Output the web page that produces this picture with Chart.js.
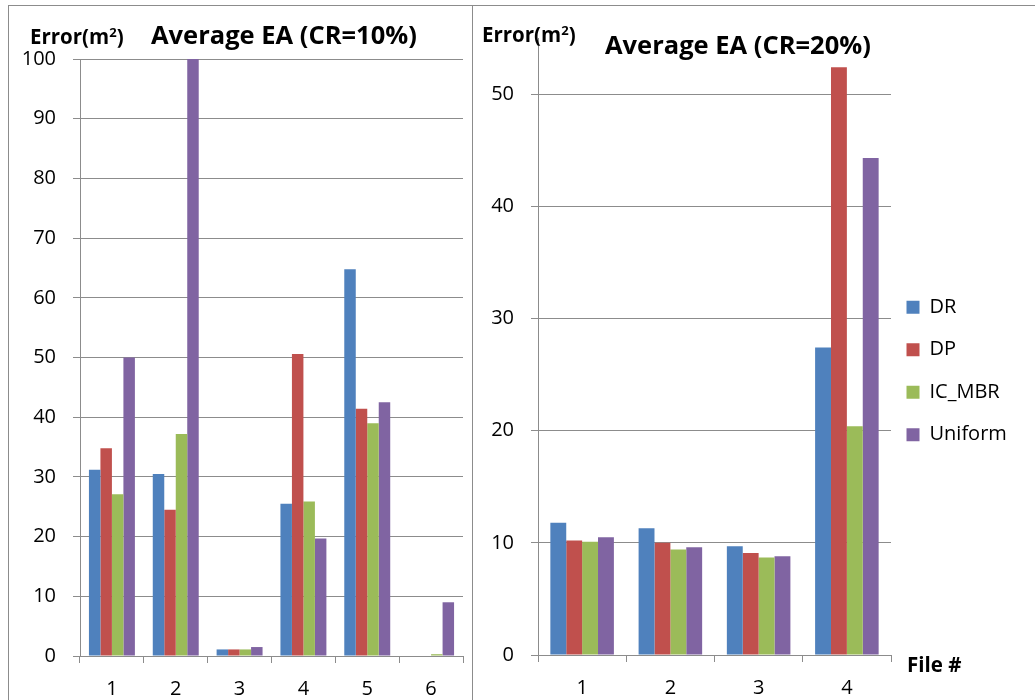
<!DOCTYPE html>
<html>
<head>
<meta charset="utf-8">
<script src="https://cdn.jsdelivr.net/npm/chart.js@4"></script>
<style>
  html, body { margin: 0; padding: 0; background: #fff; }
  #page { position: relative; width: 1035px; height: 700px; overflow: hidden; font-family: "Open Sans", sans-serif; color: #000; }
  .frame-top { position: absolute; left: 8px; top: 5px; width: 1027px; height: 0; border-top: 1px solid #8c8c8c; }
  .frame-left { position: absolute; left: 8px; top: 5px; width: 0; height: 695px; border-left: 1px solid #8c8c8c; }
  .divider { position: absolute; left: 472px; top: 5px; width: 0; height: 695px; border-left: 1px solid #8c8c8c; }
  canvas { position: absolute; top: 0; }
  #c10 { left: 0; }
  #c20 { left: 472px; }
  .lbl { position: absolute; white-space: nowrap; font-weight: bold; }
  .title { font-size: 25.5px; line-height: 30px; }
  .ylab { font-size: 20.5px; line-height: 24px; }
  .ylab sup { font-size: 13px; vertical-align: 7px; line-height: 0; }
</style>
</head>
<body>
<div id="page">
  <div class="frame-top"></div>
  <div class="frame-left"></div>
  <div class="divider"></div>
  <canvas id="c10" width="472" height="700"></canvas>
  <canvas id="c20" width="563" height="700"></canvas>
  <div class="lbl ylab" style="left:30px; top:24px;">Error(m<sup>2</sup>)</div>
  <div class="lbl title" style="left:151px; top:19px;">Average EA (CR=10%)</div>
  <div class="lbl ylab" style="left:482px; top:22px;">Error(m<sup>2</sup>)</div>
  <div class="lbl title" style="left:605px; top:29px;">Average EA (CR=20%)</div>
  <div class="lbl ylab" style="left:907px; top:652px;">File #</div>
</div>
<script>
// Method names and colours
const seriesNames = ['DR', 'DP', 'IC_MBR', 'Uniform'];
const seriesColors = ['#4f81bd', '#c0504d', '#9bbb59', '#8064a2'];

// CR = 10 %: six files
const files10 = ['1', '2', '3', '4', '5', '6'];
const dr10 = [31.2, 30.5, 1.1, 25.5, 64.8, 0];
const dp10 = [34.8, 24.5, 1.1, 50.6, 41.4, 0];
const ic10 = [27.1, 37.2, 1.1, 25.9, 39.0, 0.3];
const un10 = [50.0, 100, 1.5, 19.7, 42.5, 9.0];
const yTicks10 = [0, 10, 20, 30, 40, 50, 60, 70, 80, 90, 100];

// CR = 20 %: four files
const files20 = ['1', '2', '3', '4'];
const dr20 = [11.8, 11.3, 9.7, 27.4];
const dp20 = [10.2, 10.0, 9.1, 52.4];
const ic20 = [10.1, 9.4, 8.7, 20.4];
const un20 = [10.5, 9.6, 8.8, 44.3];
const yTicks20 = [0, 10, 20, 30, 40, 50];

const GRID = '#8c8c8c';
const FONT = '"Open Sans", sans-serif';

function makeDatasets(values) {
  return values.map((v, i) => ({
    label: seriesNames[i],
    data: v,
    backgroundColor: seriesColors[i],
    borderWidth: 0,
    categoryPercentage: 0.72,
    barPercentage: 1.0
  }));
}

function yScale(max, tickList, width) {
  return {
    min: 0,
    max: max,
    afterBuildTicks: s => { s.ticks = tickList.map(v => ({ value: v })); },
    afterFit: s => { s.width = width; },
    grid: { color: GRID, lineWidth: 1, tickLength: 7, tickColor: GRID },
    border: { color: GRID, width: 1 },
    ticks: { color: '#000', font: { family: FONT, size: 20 }, padding: 17 }
  };
}

function xScale(height) {
  return {
    offset: true,
    afterFit: s => { s.height = height; },
    grid: { display: true, drawOnChartArea: false, offset: true, color: GRID, tickLength: 7, tickColor: GRID },
    border: { color: GRID, width: 1 },
    ticks: { color: '#000', font: { family: FONT, size: 20 }, padding: 14 }
  };
}

new Chart(document.getElementById('c10'), {
  type: 'bar',
  data: { labels: files10, datasets: makeDatasets([dr10, dp10, ic10, un10]) },
  options: {
    responsive: false,
    animation: false,
    layout: { padding: { left: 0, right: 9, top: 59, bottom: 0 } },
    plugins: { legend: { display: false }, tooltip: { enabled: false } },
    scales: { x: xScale(44), y: yScale(100, yTicks10, 80) }
  }
});

// Nudges the legend block a few pixels towards the plot
const legendShift = {
  id: 'legendShift',
  afterLayout(chart) {
    if (chart.legend) { chart.legend.left -= 7; chart.legend.top += 2; chart.legend.bottom += 2; }
  }
};

new Chart(document.getElementById('c20'), {
  type: 'bar',
  data: { labels: files20, datasets: makeDatasets([dr20, dp20, ic20, un20]) },
  options: {
    responsive: false,
    animation: false,
    layout: { padding: { left: 0, right: 19, top: 38, bottom: 0 } },
    plugins: {
      tooltip: { enabled: false },
      legend: {
        position: 'right',
        maxWidth: 125,
        labels: {
          color: '#000',
          font: { family: FONT, size: 20 },
          boxWidth: 13,
          boxHeight: 13,
          padding: 22.5
        }
      }
    },
    scales: { x: xScale(45), y: yScale(55, yTicks20, 66) }
  },
  plugins: [legendShift]
});
</script>
</body>
</html>
